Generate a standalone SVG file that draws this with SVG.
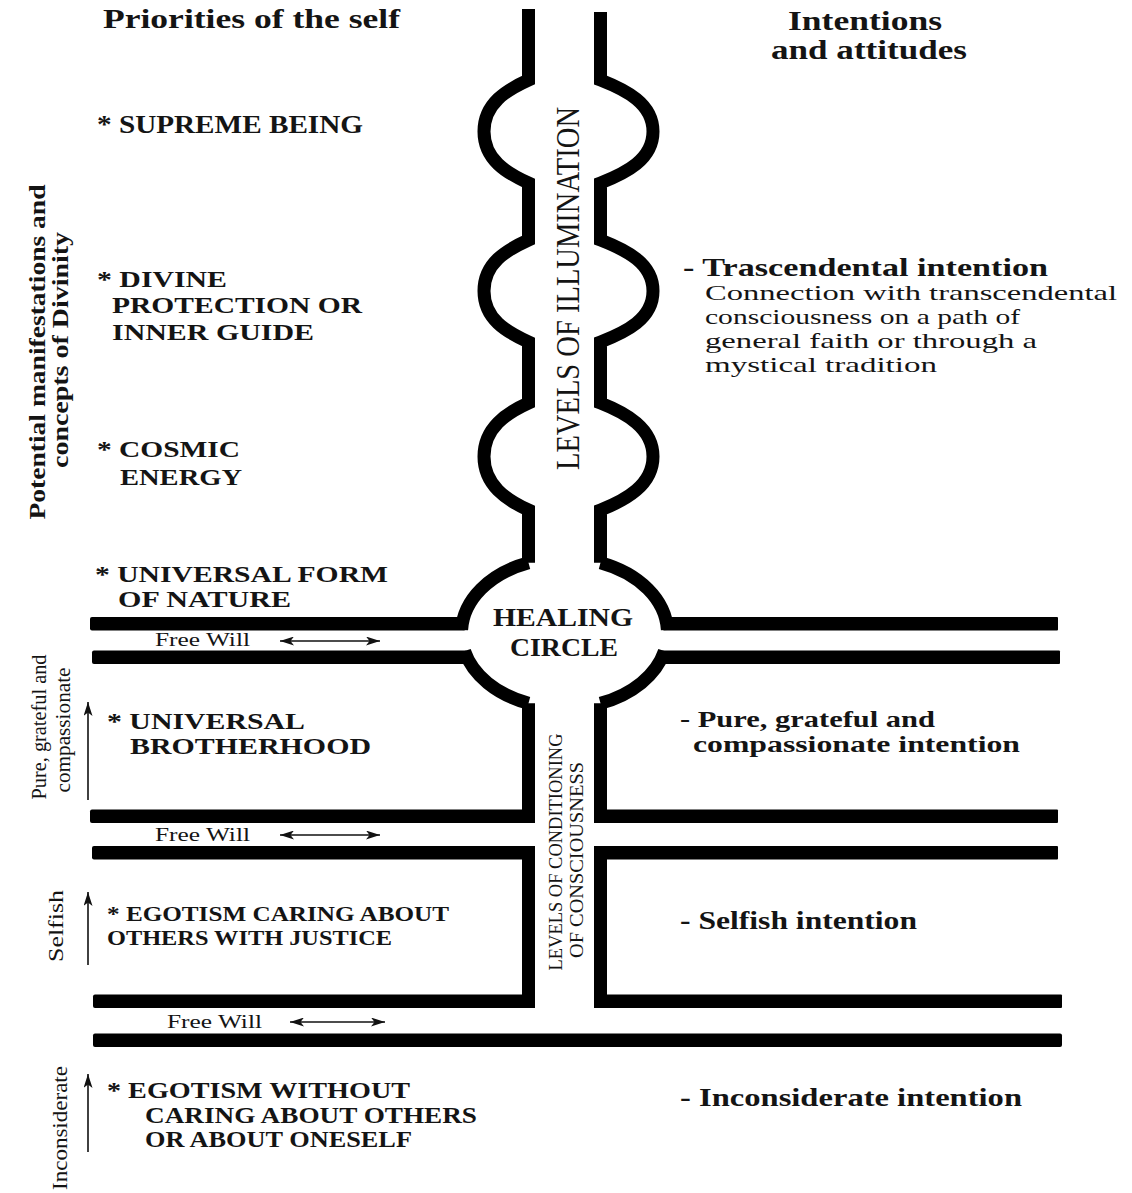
<svg xmlns="http://www.w3.org/2000/svg" width="1132" height="1193" viewBox="0 0 1132 1193">
<style>
.t{font-family:"Liberation Serif","Times New Roman",serif;fill:#141414}
.b{font-weight:bold}
.wall{fill:none;stroke:#000;stroke-width:13;stroke-linejoin:miter;stroke-linecap:butt}
.band{fill:#000}
.arr{stroke:#111;stroke-width:1.6;fill:none}
</style>
<defs>
<marker id="ah" markerUnits="userSpaceOnUse" markerWidth="14" markerHeight="9" refX="14" refY="4.5" orient="auto-start-reverse">
<path d="M0,0 L14,4.5 L0,9 L3.5,4.5 z" fill="#111"/>
</marker>
</defs>
<rect width="1132" height="1193" fill="#fff"/>

<g id="column">
<path class="wall" d="M528.5,9 V80 C506.5,90 484,103.5 484,131.5 C484,159.5 506.5,173 528.5,183 V240 C506.5,250 484,263 484,291 C484,319 506.5,332 528.5,342 V403 C506.5,413 484,428 484,456.5 C484,485 506.5,500 528.5,510 V562.7"/>
<path class="wall" d="M600.5,12 V80 C626,90 653,103.5 653,131.5 C653,159.5 626,173 600.5,183 V240 C626,250 653,263 653,291 C653,319 626,332 600.5,342 V403 C626,413 653,428 653,456.5 C653,485 626,500 600.5,510 V562.7"/>
<path class="wall" d="M528.5,703.3 V823 M528.5,846 V1008"/>
<path class="wall" d="M600.5,703.3 V823 M600.5,846 V1008"/>
</g>

<g id="healing-circle">
<path class="wall" d="M528.5,562.7 A103,75 0 0 0 461.6,630"/>
<path class="wall" d="M464.5,651 A103,75 0 0 0 528.5,703.3"/>
<path class="wall" d="M600.5,562.7 A103,75 0 0 1 667.4,630"/>
<path class="wall" d="M664.5,651 A103,75 0 0 1 600.5,703.3"/>
<text class="t b" x="493" y="626" font-size="26" textLength="140" lengthAdjust="spacingAndGlyphs">HEALING</text>
<text class="t b" x="510" y="656" font-size="26" textLength="108" lengthAdjust="spacingAndGlyphs">CIRCLE</text>
</g>

<g id="bands">
<rect class="band" x="90" y="617" width="376" height="13.5" rx="2"/>
<rect class="band" x="663" y="617" width="395" height="13.5" rx="1"/>
<rect class="band" x="92" y="650.5" width="376" height="13.5" rx="2"/>
<rect class="band" x="661" y="650.5" width="399" height="13.5" rx="1"/>
<rect class="band" x="90" y="809.5" width="444" height="13.5" rx="2"/>
<rect class="band" x="595" y="809.5" width="463" height="13.5" rx="1"/>
<rect class="band" x="92" y="846" width="442" height="13.5" rx="2"/>
<rect class="band" x="595" y="846" width="463" height="13.5" rx="1"/>
<rect class="band" x="93" y="994.5" width="441" height="13.5" rx="2"/>
<rect class="band" x="595" y="994.5" width="467" height="13.5" rx="1"/>
<rect class="band" x="93" y="1033.5" width="969" height="13.5" rx="2"/>
</g>

<g id="column-labels">
<text class="t" transform="translate(579,288.5) rotate(-90)" text-anchor="middle" font-size="34" textLength="363" lengthAdjust="spacingAndGlyphs">LEVELS OF ILLUMINATION</text>
<text class="t" transform="translate(562,852) rotate(-90)" text-anchor="middle" font-size="18.5" textLength="237" lengthAdjust="spacingAndGlyphs">LEVELS OF CONDITIONING</text>
<text class="t" transform="translate(583,860) rotate(-90)" text-anchor="middle" font-size="18.5" textLength="196" lengthAdjust="spacingAndGlyphs">OF CONSCIOUSNESS</text>
</g>

<g id="headers">
<text class="t b" x="103" y="28" font-size="28" textLength="297" lengthAdjust="spacingAndGlyphs">Priorities of the self</text>
<text class="t b" x="788" y="30" font-size="28" textLength="154" lengthAdjust="spacingAndGlyphs">Intentions</text>
<text class="t b" x="771" y="59" font-size="28" textLength="196" lengthAdjust="spacingAndGlyphs">and attitudes</text>
</g>

<g id="side-labels">
<text class="t b" transform="translate(45,352) rotate(-90)" text-anchor="middle" font-size="24" textLength="335" lengthAdjust="spacingAndGlyphs">Potential manifestations and</text>
<text class="t b" transform="translate(68,350) rotate(-90)" text-anchor="middle" font-size="24" textLength="236" lengthAdjust="spacingAndGlyphs">concepts of Divinity</text>
<text class="t" transform="translate(46,727) rotate(-90)" text-anchor="middle" font-size="21" textLength="145" lengthAdjust="spacingAndGlyphs">Pure, grateful and</text>
<text class="t" transform="translate(70,730) rotate(-90)" text-anchor="middle" font-size="21" textLength="125" lengthAdjust="spacingAndGlyphs">compassionate</text>
<text class="t" transform="translate(63,926) rotate(-90)" text-anchor="middle" font-size="21" textLength="72" lengthAdjust="spacingAndGlyphs">Selfish</text>
<text class="t" transform="translate(67,1128) rotate(-90)" text-anchor="middle" font-size="21" textLength="124" lengthAdjust="spacingAndGlyphs">Inconsiderate</text>
</g>

<g id="priorities">
<text class="t b" x="97" y="133" font-size="25" textLength="266" lengthAdjust="spacingAndGlyphs">* SUPREME BEING</text>
<text class="t b" x="97" y="287" font-size="24" textLength="130" lengthAdjust="spacingAndGlyphs">* DIVINE</text>
<text class="t b" x="112" y="313" font-size="24" textLength="250" lengthAdjust="spacingAndGlyphs">PROTECTION OR</text>
<text class="t b" x="112" y="340" font-size="24" textLength="202" lengthAdjust="spacingAndGlyphs">INNER GUIDE</text>
<text class="t b" x="97" y="457" font-size="24" textLength="143" lengthAdjust="spacingAndGlyphs">* COSMIC</text>
<text class="t b" x="120" y="485" font-size="24" textLength="122" lengthAdjust="spacingAndGlyphs">ENERGY</text>
<text class="t b" x="95" y="582" font-size="23" textLength="293" lengthAdjust="spacingAndGlyphs">* UNIVERSAL FORM</text>
<text class="t b" x="118" y="607" font-size="23" textLength="173" lengthAdjust="spacingAndGlyphs">OF NATURE</text>
<text class="t b" x="107" y="729" font-size="24" textLength="198" lengthAdjust="spacingAndGlyphs">* UNIVERSAL</text>
<text class="t b" x="130" y="754" font-size="24" textLength="241" lengthAdjust="spacingAndGlyphs">BROTHERHOOD</text>
<text class="t b" x="107" y="921" font-size="22" textLength="342" lengthAdjust="spacingAndGlyphs">* EGOTISM CARING ABOUT</text>
<text class="t b" x="107" y="945" font-size="22" textLength="285" lengthAdjust="spacingAndGlyphs">OTHERS WITH JUSTICE</text>
<text class="t b" x="107" y="1098" font-size="23" textLength="303" lengthAdjust="spacingAndGlyphs">* EGOTISM WITHOUT</text>
<text class="t b" x="145" y="1123" font-size="23" textLength="332" lengthAdjust="spacingAndGlyphs">CARING ABOUT OTHERS</text>
<text class="t b" x="145" y="1147" font-size="23" textLength="267" lengthAdjust="spacingAndGlyphs">OR ABOUT ONESELF</text>
</g>

<g id="free-will">
<text class="t" x="155" y="646" font-size="18.5" textLength="95" lengthAdjust="spacingAndGlyphs">Free Will</text>
<text class="t" x="155" y="841" font-size="18.5" textLength="95" lengthAdjust="spacingAndGlyphs">Free Will</text>
<text class="t" x="167" y="1028" font-size="18.5" textLength="95" lengthAdjust="spacingAndGlyphs">Free Will</text>
</g>

<g id="intentions">
<text class="t b" x="683" y="276" font-size="25" textLength="365" lengthAdjust="spacingAndGlyphs">- Trascendental intention</text>
<text class="t" x="705" y="300" font-size="22" textLength="412" lengthAdjust="spacingAndGlyphs">Connection with transcendental</text>
<text class="t" x="705" y="324" font-size="22" textLength="315" lengthAdjust="spacingAndGlyphs">consciousness on a path of</text>
<text class="t" x="705" y="348" font-size="22" textLength="332" lengthAdjust="spacingAndGlyphs">general faith or through a</text>
<text class="t" x="705" y="372" font-size="22" textLength="232" lengthAdjust="spacingAndGlyphs">mystical tradition</text>
<text class="t b" x="680" y="727" font-size="24" textLength="255" lengthAdjust="spacingAndGlyphs">- Pure, grateful and</text>
<text class="t b" x="693" y="752" font-size="24" textLength="327" lengthAdjust="spacingAndGlyphs">compassionate intention</text>
<text class="t b" x="680" y="929" font-size="25" textLength="237" lengthAdjust="spacingAndGlyphs">- Selfish intention</text>
<text class="t b" x="680" y="1106" font-size="25" textLength="342" lengthAdjust="spacingAndGlyphs">- Inconsiderate intention</text>
</g>

<g id="connectors">
<line class="arr" x1="280" y1="641" x2="380" y2="641" marker-start="url(#ah)" marker-end="url(#ah)"/>
<line class="arr" x1="280" y1="835" x2="380" y2="835" marker-start="url(#ah)" marker-end="url(#ah)"/>
<line class="arr" x1="290" y1="1022" x2="385" y2="1022" marker-start="url(#ah)" marker-end="url(#ah)"/>
<line class="arr" x1="88" y1="800" x2="88" y2="702" marker-end="url(#ah)"/>
<line class="arr" x1="88" y1="965" x2="88" y2="892" marker-end="url(#ah)"/>
<line class="arr" x1="88" y1="1152" x2="88" y2="1074" marker-end="url(#ah)"/>
</g>
</svg>
